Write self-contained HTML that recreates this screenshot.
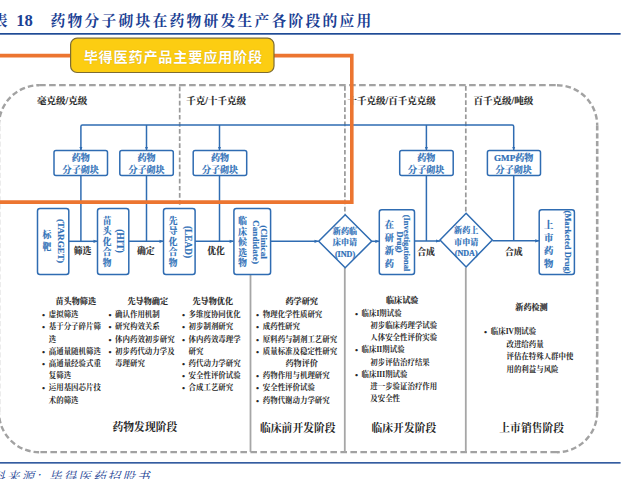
<!DOCTYPE html>
<html lang="zh">
<head>
<meta charset="utf-8">
<title>药物分子砌块在药物研发生产各阶段的应用</title>
<style>
html,body{margin:0;padding:0;background:#fff;}
body{width:622px;height:479px;position:relative;overflow:hidden;font-family:"Liberation Serif","Noto Serif CJK SC",serif;}
#bg{position:absolute;left:0;top:0;width:622px;height:479px;}
.t{position:absolute;white-space:nowrap;font-weight:bold;color:#262626;line-height:1;}
.title{left:-7.2px;top:13.6px;font-size:14.8px;color:#1c3f94;letter-spacing:2.2px;}
.title b{font-size:16.6px;letter-spacing:0;position:absolute;left:23.4px;top:-0.4px;}
.title i{font-style:normal;margin-left:40.8px;}
.src{left:-22.6px;top:470.6px;font-size:12.6px;color:#1c3f94;font-style:italic;font-weight:normal;letter-spacing:2.1px;}
.src b{font-weight:normal;position:absolute;left:71.4px;top:0;}
.banner{left:72.3px;top:39.6px;width:202px;height:34px;line-height:34px;letter-spacing:0.75px;text-shadow:0 0 1px rgba(150,110,0,.55);color:#fffdf3;text-align:center;color:#fff;font-family:"Liberation Sans","Noto Sans CJK SC",sans-serif;font-size:14.2px;}
.lvl{font-size:9.5px;top:96.8px;-webkit-text-stroke:0.15px #262626;}
.blk{font-size:9.05px;color:#2e6fb7;text-align:center;line-height:12.7px;top:151.5px;width:54px;-webkit-text-stroke:0.2px #2e6fb7;}
.vc{-webkit-text-stroke:0.2px #2e6fb7;color:#2e6fb7;text-align:center;width:10px;}
.ve{-webkit-text-stroke:0.15px #2e6fb7;color:#2e6fb7;width:0;height:0;}
.ve span{position:absolute;left:0;top:0;transform:translate(-50%,-50%) rotate(90deg);display:block;line-height:1;}
.lab{font-size:8.8px;top:246.7px;-webkit-text-stroke:0.15px #262626;}
.hd{font-size:8.1px;top:298.4px;-webkit-text-stroke:0.15px #262626;}
.ul{font-size:7.45px;line-height:12.2px;top:309.1px;}
.ul div{position:relative;padding-left:6.3px;}
.ul div.b s{text-decoration:none;position:absolute;left:-0.4px;top:0;font-family:"Liberation Serif",serif;font-size:8.6px;}
.ul div.i{padding-left:15px;}
.stage{font-size:10.8px;top:422px;}
.dm{-webkit-text-stroke:0.2px #2e6fb7;font-size:8.1px;color:#2e6fb7;text-align:center;line-height:11.5px;width:54px;}
</style>
</head>
<body>
<svg id="bg" width="622" height="479" viewBox="0 0 622 479">
  <!-- title underline + bottom rule -->
  <rect x="0" y="33" width="620.6" height="1.7" fill="#1f4b96"/>
  <rect x="0" y="462.1" width="620.6" height="1.5" fill="#1f4b96"/>
  <!-- dashed outer frame -->
  <g fill="none" stroke="#a2a2a2">
    <path d="M39.1,85.2 H557 M557,452.2 H39.1" stroke-width="2.3" stroke-dasharray="6.6 3.4"/>
    <path d="M557,85.2 A40.2,40.2 0 0 1 597.2,125.4 M597.2,412 A40.2,40.2 0 0 1 557,452.2 M39.1,452.2 A40.2,40.2 0 0 1 -1.1,412 M-1.1,125.4 A40.2,40.2 0 0 1 39.1,85.2" stroke-width="2.4" stroke-dasharray="5.6 3"/>
    <path d="M597.2,125.4 V412 M-1.1,412 V125.4" stroke-width="2.6" stroke-dasharray="5.2 2.6"/>
  </g>
  <!-- inner dashed verticals -->
  <g stroke="#999" stroke-width="1.7" stroke-dasharray="4.7 2.4" fill="none">
    <line x1="179.7" y1="86.5" x2="179.7" y2="206"/>
    <line x1="344.9" y1="86" x2="344.9" y2="214.6"/>
    <line x1="465.8" y1="86" x2="465.8" y2="214"/>
  </g>
  <!-- solid grey separators -->
  <g stroke="#a6a6a6" stroke-width="1.8" fill="none">
    <line x1="250.5" y1="274.5" x2="250.5" y2="452"/>
    <line x1="344.8" y1="267.5" x2="344.8" y2="452"/>
    <line x1="465.8" y1="267.5" x2="465.8" y2="452"/>
  </g>
  <!-- blue connectors -->
  <g stroke="#2f6cb2" stroke-width="1.5" fill="none">
    <path d="M80.9,150 V126.5 Q80.9,125 82.4,125 H512.2 Q513.7,125 513.7,126.5 V150"/>
    <line x1="146.5" y1="125" x2="146.5" y2="150"/>
    <line x1="219.5" y1="125" x2="219.5" y2="150"/>
    <line x1="426.4" y1="125" x2="426.4" y2="150"/>
    <line x1="80.9" y1="175.5" x2="80.9" y2="241.3"/>
    <line x1="146.5" y1="175.5" x2="146.5" y2="241.3"/>
    <line x1="219.5" y1="175.5" x2="219.5" y2="241.3"/>
    <line x1="426.4" y1="175.5" x2="426.4" y2="241"/>
    <line x1="513.7" y1="175.5" x2="513.7" y2="240.8"/>
    <line x1="69" y1="241.3" x2="97" y2="241.3"/>
    <line x1="129" y1="241.3" x2="163" y2="241.3"/>
    <line x1="195" y1="241.3" x2="233.5" y2="241.3"/>
    <line x1="270.5" y1="241.3" x2="318.5" y2="241.3"/>
    <line x1="371.5" y1="241.3" x2="379" y2="241.3"/>
    <line x1="414.5" y1="241" x2="440" y2="241"/>
    <line x1="492.5" y1="240.8" x2="539" y2="240.8"/>
  </g>
  <!-- boxes -->
  <g stroke="#2f6cb2" stroke-width="1.5" fill="#fff">
    <rect x="54" y="150.4" width="53.5" height="25.2" rx="2"/>
    <rect x="119.8" y="150.4" width="53.5" height="25.2" rx="2"/>
    <rect x="193.2" y="150.4" width="53.5" height="25.2" rx="2"/>
    <rect x="399.7" y="150.4" width="53.5" height="25.2" rx="2"/>
    <rect x="487.4" y="150.4" width="53.1" height="25.2" rx="2"/>
    <rect x="37.5" y="208.5" width="31.3" height="66" rx="2.5"/>
    <rect x="97.5" y="208.5" width="31.3" height="66" rx="2.5"/>
    <rect x="163.5" y="208.5" width="31.6" height="66" rx="2.5"/>
    <rect x="233.9" y="208.5" width="36.7" height="66" rx="2.5"/>
    <rect x="379.3" y="209.8" width="35.2" height="64.8" rx="2.5"/>
    <rect x="539.2" y="209.8" width="35.2" height="64.6" rx="2.5"/>
    <polygon points="345.2,214.7 371.7,241.2 345.2,267.8 318.7,241.2"/>
    <polygon points="466.1,213.3 492.3,240.1 466.1,266.9 440,240.1"/>
  </g>
  <!-- arrowheads -->
  <g fill="#2f6cb2" stroke="none">
    <polygon points="79.4,146.9 82.4,146.9 80.9,150.6"/>
    <polygon points="145.0,146.9 148.0,146.9 146.5,150.6"/>
    <polygon points="218.0,146.9 221.0,146.9 219.5,150.6"/>
    <polygon points="424.9,146.9 427.9,146.9 426.4,150.6"/>
    <polygon points="512.2,146.9 515.2,146.9 513.7,150.6"/>
    <polygon points="93.5,239.7 93.5,242.9 97.8,241.3"/>
    <polygon points="159.5,239.7 159.5,242.9 163.8,241.3"/>
    <polygon points="229.6,239.7 229.6,242.9 233.9,241.3"/>
    <polygon points="314.5,239.7 314.5,242.9 318.8,241.3"/>
    <polygon points="375.3,239.7 375.3,242.9 379.6,241.3"/>
    <polygon points="436,239.4 436,242.6 440.3,241"/>
    <polygon points="535.2,239.2 535.2,242.4 539.5,240.8"/>
  </g>
</svg>

<div class="t title">表<b>18</b><i>药物分子砌块在药物研发生产各阶段的应用</i></div>

<div class="t lvl" style="left:37px">毫克级/克级</div>
<div class="t lvl" style="left:186.3px">千克/十千克级</div>
<div class="t lvl" style="left:347.6px">十千克级/百千克克级</div>
<div class="t lvl" style="left:473.6px">百千克级/吨级</div>

<svg id="fg" width="622" height="479" viewBox="0 0 622 479" style="position:absolute;left:0;top:0">
  <!-- orange highlight frame -->
  <polyline points="-2,55.6 351.8,55.6 351.8,202.1 -2,202.1" fill="none" stroke="#ec7530" stroke-width="3.6"/>
  <!-- yellow banner -->
  <rect x="70.6" y="38.2" width="203.4" height="34.3" rx="6.5" ry="6.5" fill="#fccd12" stroke="#7d6c33" stroke-width="1.2"/>
</svg>
<div class="t banner">毕得医药产品主要应用阶段</div>

<div class="t blk" style="left:53.7px">药物<br>分子砌块</div>
<div class="t blk" style="left:119.5px">药物<br>分子砌块</div>
<div class="t blk" style="left:193px">药物<br>分子砌块</div>
<div class="t blk" style="left:399.2px">药物<br>分子砌块</div>
<div class="t blk" style="left:486.7px">GMP药物<br>分子砌块</div>

<!-- vertical stage boxes -->
<div class="t vc" style="left:41.8px;top:228.9px;font-size:8.8px;line-height:12.6px">标<br>靶</div>
<div class="t vc" style="left:102px;top:215.8px;font-size:8.7px;line-height:10.5px">苗<br>头<br>化<br>合<br>物</div>
<div class="t vc" style="left:168px;top:215.9px;font-size:8.7px;line-height:10.5px">先<br>导<br>化<br>合<br>物</div>
<div class="t vc" style="left:237.7px;top:216px;font-size:8.7px;line-height:10.5px">临<br>床<br>候<br>选<br>物</div>
<div class="t vc" style="left:384.3px;top:218.8px;font-size:9.2px;line-height:12.9px">在<br>研<br>新<br>药</div>
<div class="t vc" style="left:543.8px;top:218.8px;font-size:9.4px;line-height:13px">上<br>市<br>药<br>物</div>
<div class="t ve" style="left:59.6px;top:241.2px;font-size:9.2px"><span>(TARGET)</span></div>
<div class="t ve" style="left:119px;top:241.2px;font-size:9.5px"><span>(HIT)</span></div>
<div class="t ve" style="left:187.4px;top:242px;font-size:9.3px"><span>(LEAD)</span></div>
<div class="t ve" style="left:254.5px;top:242px;font-size:9.2px"><span>Candidate)</span></div>
<div class="t ve" style="left:263.2px;top:241.8px;font-size:9.2px"><span>(Clinical</span></div>
<div class="t ve" style="left:398.8px;top:242.3px;font-size:8.3px"><span>Drug)</span></div>
<div class="t ve" style="left:407.2px;top:242.6px;font-size:8.5px"><span>(Investigational</span></div>
<div class="t ve" style="left:568px;top:242px;font-size:8.6px"><span>(Marketed Drug)</span></div>

<div class="t dm" style="left:318px;top:225.6px">新药临<br>床申请<br>(IND)</div>
<div class="t dm" style="left:439.2px;top:225.2px">新药上<br>市申请<br>(NDA)</div>

<div class="t lab" style="left:73.7px">筛选</div>
<div class="t lab" style="left:137px">确定</div>
<div class="t lab" style="left:207.2px">优化</div>
<div class="t lab" style="left:417.3px;top:247.9px">合成</div>
<div class="t lab" style="left:505px;top:248px">合成</div>

<!-- detail columns -->
<div class="t hd" style="left:55.5px">苗头物筛选</div>
<div class="t ul" style="left:42.5px">
<div class="b"><s>•</s>虚拟筛选</div><div class="b"><s>•</s>基于分子碎片筛</div><div>选</div><div class="b"><s>•</s>高通量随机筛选</div><div class="b"><s>•</s>高通量经验式重</div><div>复筛选</div><div class="b"><s>•</s>运用基因芯片技</div><div>术的筛选</div>
</div>

<div class="t hd" style="left:127.5px">先导物确定</div>
<div class="t ul" style="left:108.8px">
<div class="b"><s>•</s>确认作用机制</div><div class="b"><s>•</s>研究构效关系</div><div class="b"><s>•</s>体内药效初步研究</div><div class="b"><s>•</s>初步药代动力学及</div><div>毒理研究</div>
</div>

<div class="t hd" style="left:192.5px">先导物优化</div>
<div class="t ul" style="left:182.3px">
<div class="b"><s>•</s>多维度协同优化</div><div class="b"><s>•</s>初步制剂研究</div><div class="b"><s>•</s>体内药效毒理学</div><div>研究</div><div class="b"><s>•</s>药代动力学研究</div><div class="b"><s>•</s>安全性评价试验</div><div class="b"><s>•</s>合成工艺研究</div>
</div>

<div class="t hd" style="left:285.5px">药学研究</div>
<div class="t ul" style="left:256.5px">
<div class="b"><s>•</s>物理化学性质研究</div><div class="b"><s>•</s>成药性研究</div><div class="b"><s>•</s>原料药与制剂工艺研究</div><div class="b"><s>•</s>质量标准及稳定性研究</div><div style="padding-left:29px;font-size:8.1px">药物评价</div><div class="b"><s>•</s>药物作用与机理研究</div><div class="b"><s>•</s>安全性评价试验</div><div class="b"><s>•</s>药物代谢动力学研究</div>
</div>

<div class="t hd" style="left:386px;top:296.7px">临床试验</div>
<div class="t ul" style="left:355.3px;top:307.8px">
<div class="b"><s>•</s>临床I期试验</div><div class="i">初步临床药理学试验</div><div class="i">人体安全性评价实验</div><div class="b"><s>•</s>临床II期试验</div><div class="i">初步评估治疗结果</div><div class="b"><s>•</s>临床III期试验</div><div class="i">进一步验证治疗作用</div><div class="i">及安全性</div>
</div>

<div class="t hd" style="left:515.3px;top:303.5px">新药检测</div>
<div class="t ul" style="left:484.5px;top:326px;line-height:12.5px">
<div class="b"><s>•</s>临床IV期试验</div><div style="padding-left:22px">改进给药量</div><div style="padding-left:22px">评估在特殊人群中使</div><div style="padding-left:22px">用的利益与风险</div>
</div>

<div class="t stage" style="left:112.5px;top:421.5px">药物发现阶段</div>
<div class="t stage" style="left:260px;top:422.5px">临床前开发阶段</div>
<div class="t stage" style="left:371.5px;top:422.5px">临床开发阶段</div>
<div class="t stage" style="left:499.3px;top:422.5px">上市销售阶段</div>

<div class="t src">资料来源<span style="letter-spacing:0;margin-left:-1px">：</span><b>毕得医药招股书</b></div>
</body>
</html>
